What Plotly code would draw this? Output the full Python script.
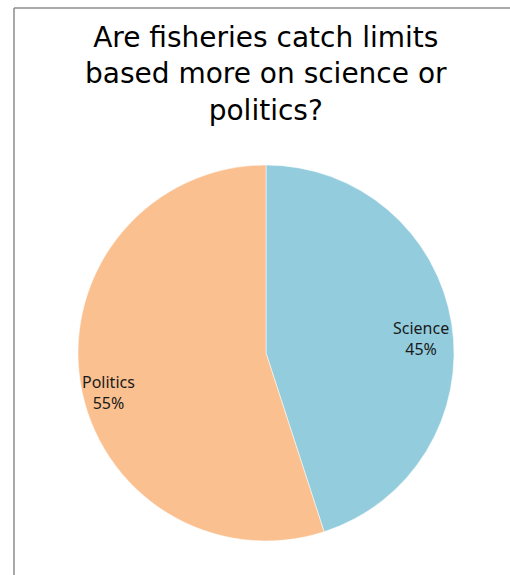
import plotly.graph_objects as go

categories = ["Science", "Politics"]
values = [45, 55]
colors = ["#93CDDD", "#FAC090"]
title_lines = ["Are fisheries catch limits", "based more on science or", "politics?"]

W, H = 510, 575
cx, cy, r = 266, 353, 188

fig = go.Figure()
fig.add_trace(go.Pie(
    labels=categories,
    values=values,
    sort=False,
    direction="clockwise",
    rotation=0,
    marker=dict(colors=colors, line=dict(color="white", width=0.5)),
    textinfo="none",
    hoverinfo="label+percent",
    showlegend=False,
    domain=dict(x=[(cx - r) / W, (cx + r) / W], y=[(H - cy - r) / H, (H - cy + r) / H]),
))

total = sum(values)
label_pos = [(421, 338), (108, 392)]
annotations = []
for cat, v, (lx, ly) in zip(categories, values, label_pos):
    annotations.append(dict(
        text=f"{cat}<br>{round(100 * v / total)}%",
        x=lx / W, y=1 - ly / H, xref="paper", yref="paper",
        xanchor="center", yanchor="middle", showarrow=False,
        font=dict(family="Noto Sans, Open Sans, sans-serif", size=16, color="#1a1a1a"),
    ))
annotations.append(dict(
    text="<br>".join(title_lines),
    x=266 / W, y=1 - 74 / H, xref="paper", yref="paper",
    xanchor="center", yanchor="middle", showarrow=False,
    font=dict(family="DejaVu Sans, Liberation Sans, Arial, sans-serif", size=28, color="#000000"),
))

fig.update_layout(
    width=W, height=H,
    margin=dict(l=0, r=0, t=0, b=0),
    paper_bgcolor="white", plot_bgcolor="white",
    annotations=annotations,
    shapes=[
        dict(type="line", xref="paper", yref="paper", x0=14 / W, x1=1.0, y0=1 - 8 / H, y1=1 - 8 / H,
             line=dict(color="#8c8c8c", width=1.5)),
        dict(type="line", xref="paper", yref="paper", x0=14 / W, x1=14 / W, y0=0, y1=1 - 8 / H,
             line=dict(color="#8c8c8c", width=1.5)),
    ],
)

fig.write_html(
    "out.html",
    config={"displayModeBar": False},
    post_script="document.body.style.margin='0';document.body.style.overflow='hidden';",
)
